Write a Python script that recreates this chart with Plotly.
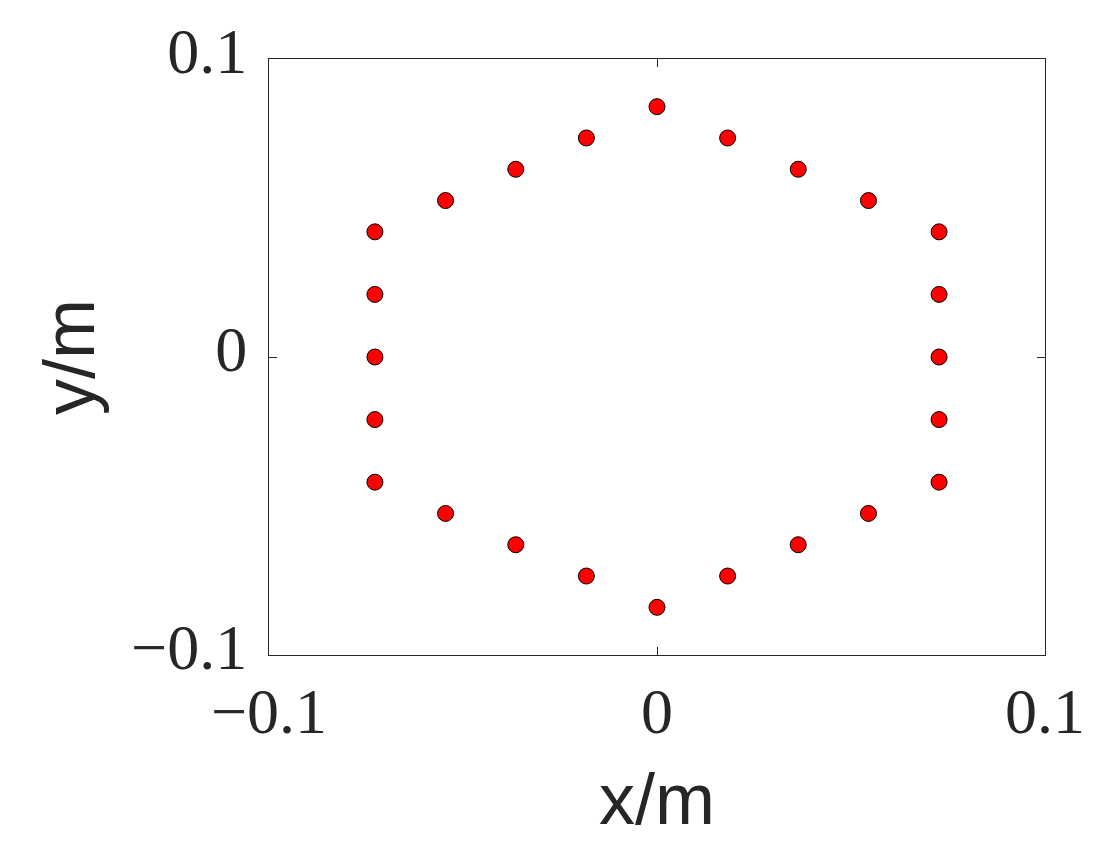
import plotly.graph_objects as go

# Point coordinates (m)
x_vals = [0.0, 0.0182, 0.0364, 0.0545, 0.0727, 0.0727, 0.0727, 0.0727, 0.0727,
          0.0545, 0.0364, 0.0182, 0.0, -0.0182, -0.0364, -0.0545, -0.0727,
          -0.0727, -0.0727, -0.0727, -0.0727, -0.0545, -0.0364, -0.0182]
y_vals = [0.084, 0.0735, 0.063, 0.0525, 0.042, 0.021, 0.0, -0.021, -0.042,
          -0.0525, -0.063, -0.0735, -0.084, -0.0735, -0.063, -0.0525, -0.042,
          -0.021, 0.0, 0.021, 0.042, 0.0525, 0.063, 0.0735]

tick_vals = [-0.1, 0, 0.1]
tick_text = ["\u22120.1", "0", "0.1"]

txt = "#262626"
fig = go.Figure(go.Scatter(
    x=x_vals, y=y_vals, mode="markers",
    marker=dict(size=16, color="#ff0000", line=dict(color="black", width=1)),
))

axis_common = dict(
    range=[-0.1, 0.1], tickvals=tick_vals, ticktext=tick_text,
    ticks="inside", ticklen=8, tickwidth=1, tickcolor=txt,
    showline=True, linecolor=txt, linewidth=1, mirror="ticks",
    showgrid=False, zeroline=False, automargin=False,
    tickfont=dict(family="Liberation Serif", size=64, color=txt),
)

fig.update_layout(
    width=1107, height=860,
    margin=dict(l=261, r=70, t=51, b=213),
    paper_bgcolor="white", plot_bgcolor="white",
    showlegend=False,
    xaxis=dict(**axis_common, ticklabelstandoff=0,
               title=dict(text="x/m", standoff=27,
                          font=dict(family="Liberation Sans", size=72, color=txt))),
    yaxis=dict(**axis_common, ticklabelstandoff=8, ticklabelshift=-8,
               title=dict(text="y/m", standoff=12,
                          font=dict(family="Liberation Sans", size=72, color=txt))),
)

fig.write_html("out.html")
